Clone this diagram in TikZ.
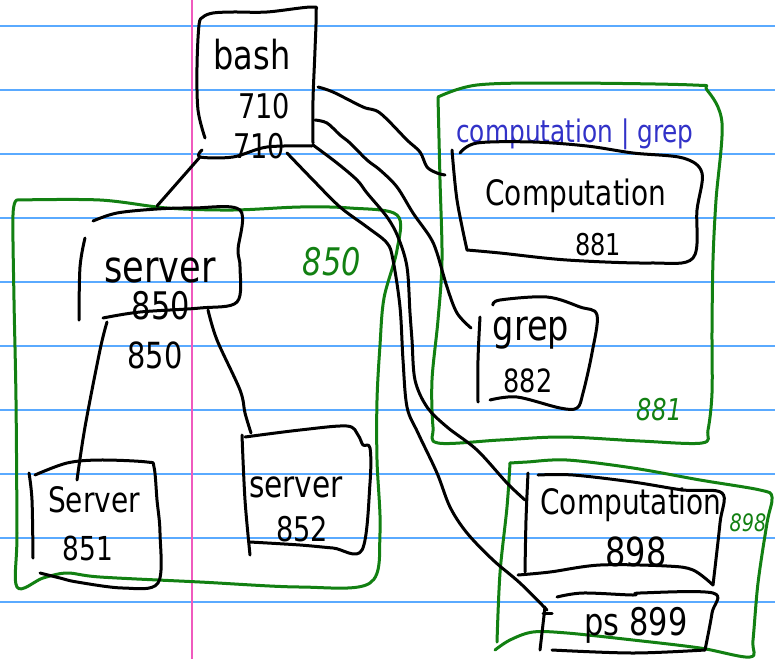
\documentclass[tikz,border=0pt]{standalone}
\usepackage{fontspec}
\newfontfamily\hand[FakeStretch=0.8]{DejaVu Sans}
\definecolor{penGreen}{RGB}{18,128,18}
\definecolor{penBlue}{RGB}{50,50,200}
\definecolor{ruleBlue}{RGB}{90,170,255}
\definecolor{marginPink}{RGB}{240,90,190}
\newcommand{\fs}[1]{\fontsize{#1}{#1}\selectfont}
\tikzset{
  ink/.style={line width=3pt, line cap=round, line join=round, draw=black},
  greenink/.style={ink, draw=penGreen},
  ruling/.style={line width=1.4pt, draw=ruleBlue},
  margin/.style={line width=1.4pt, draw=marginPink},
  hand/.style={font=\hand, inner sep=0pt, text=black},
  greenlabel/.style={hand, text=penGreen},
  bluelabel/.style={hand, text=penBlue},
  wob/.style={smooth, tension=0.55}
}
\begin{document}
\begin{tikzpicture}[x=1pt, y=-1pt]
\useasboundingbox (0,0) rectangle (775,659);
\fill[white] (0,0) rectangle (775,659);

% ruled paper
\foreach \k in {0,...,9}
  \draw[ruling] (0,26+64*\k) -- (775,26+64*\k);
\draw[margin] (192,0) -- (192,659);

% ---------- green group outlines ----------
\draw[greenink] plot[wob] coordinates {(17,200) (100,200) (167,208) (233,210) (300,207) (350,208) (397,215)
  (397,250) (384,298) (380,345) (377,400) (377,460) (380,533) (370,583)
  (300,587) (200,582) (100,577) (67,573) (43,578) (17,587)
  (17,533) (16,400) (14,300) (13,215) (17,200)};
\node[greenlabel, font=\hand\itshape\fs{38}] (g850) at (332,262) {850};

\draw[greenink] plot[wob] coordinates {(438,97) (477,85) (560,83) (693,85) (707,90) (722,123)
  (716,200) (713,260) (712,330) (712,393) (708,430) (702,443)
  (640,441) (563,437) (500,440) (438,443)
  (433,427) (432,380) (438,320) (442,260) (440,180) (438,97)};
\node[greenlabel, font=\hand\itshape\fs{30}] (g881) at (659,410) {881};

\draw[greenink] plot[wob] coordinates {(510,463) (527,462) (567,460) (633,468) (700,480) (760,490) (772,497)
  (767,523) (758,583) (753,640) (750,657)
  (700,648) (633,640) (567,633) (533,632) (510,640) (495,650)};
\draw[greenink] plot[wob] coordinates {(510,463) (507,507) (500,573) (497,642)};
\node[greenlabel, font=\hand\itshape\fs{24}] (g898) at (748,523) {898};

% ---------- bash 710 ----------
\draw[ink] plot[wob] coordinates {(205,138) (198,110) (197,67) (199,25) (203,17) (213,13) (233,12) (267,12) (312,7)
  (316,13) (315,50) (313,100) (313,143)};
\draw[ink] plot[wob] coordinates {(202,150) (200,157) (233,157) (267,147) (312,146)};
\node[hand, font=\hand\fs{40}] (bashname) at (252,55) {bash};
\node[hand, font=\hand\fs{34}] (bashpid) at (264,106) {710};
\node[hand, font=\hand\fs{34}] (bashpgid) at (259,146) {710};
\coordinate (bash-bl) at (200,157);
\coordinate (bash-r1) at (318,87);
\coordinate (bash-r2) at (315,120);
\coordinate (bash-r3) at (313,145);
\coordinate (bash-b)  at (287,153);

% ---------- server 850 ----------
\draw[ink] plot[wob] coordinates {(93,221) (117,213) (157,209) (193,208) (240,210)
  (238,250) (240,267) (237,302) (200,308) (140,312) (103,318)};
\draw[ink] plot[wob] coordinates {(85,238) (80,267) (79,320)};
\node[hand, font=\hand\fs{44}] (srvname) at (160,270) {server};
\node[hand, font=\hand\fs{38}] (srvpid) at (161,306) {850};
\node[hand, font=\hand\fs{36}] (srvpgid) at (155,355) {850};
\coordinate (srv-t)  at (157,206);
\coordinate (srv-bl) at (107,322);
\coordinate (srv-br) at (208,310);

% ---------- server 851 ----------
\draw[ink] plot[wob] coordinates {(35,475) (67,463) (100,460) (147,462) (154,467) (157,500) (160,533) (158,583)
  (123,588) (77,582) (60,578) (40,573)};
\draw[ink] plot[wob] coordinates {(29,473) (32,500) (33,558)};
\node[hand, font=\hand\fs{35}] (s851name) at (94,500) {Server};
\node[hand, font=\hand\fs{33}] (s851pid) at (88,548) {851};
\coordinate (s851-t) at (77,480);

% ---------- server 852 ----------
\draw[ink] plot[wob] coordinates {(245,437) (300,430) (347,426) (358,435) (363,445) (370,448)
  (370,483) (362,550) (333,548) (300,545) (250,542)};
\draw[ink] plot[wob] coordinates {(242,435) (245,500) (250,555)};
\node[hand, font=\hand\fs{37}] (s852name) at (296,487) {server};
\node[hand, font=\hand\fs{34}] (s852pid) at (302,529) {852};
\coordinate (s852-t) at (251,433);

% ---------- computation | grep ----------
\node[bluelabel, font=\hand\fs{31}] (pipe) at (575,134) {computation | grep};

\draw[ink] plot[wob] coordinates {(452,150) (457,200) (467,250)};
\draw[ink] plot[wob] coordinates {(460,153) (477,143) (533,142) (587,146) (633,153) (683,158) (702,173)
  (697,210) (693,258) (650,263) (567,260) (500,253) (467,250)};
\node[hand, font=\hand\fs{35}] (c881name) at (576,196) {Computation};
\node[hand, font=\hand\fs{30}] (c881pid) at (598,245) {881};
\coordinate (c881-w) at (445,175);

\draw[ink] plot[wob] coordinates {(480,317) (478,360) (478,402)};
\draw[ink] plot[wob] coordinates {(493,305) (500,300) (547,297) (580,307) (597,315) (592,353) (583,393) (577,408)
  (560,408) (517,397) (490,400)};
\node[hand, font=\hand\fs{42}] (grepname) at (531,333) {grep};
\node[hand, font=\hand\fs{32}] (greppid) at (528,381) {882};
\coordinate (grep-w) at (471,328);

% ---------- computation 898 / ps 899 ----------
\draw[ink] plot[wob] coordinates {(528,473) (526,520) (525,572)};
\draw[ink] plot[wob] coordinates {(538,475) (573,475) (633,482) (683,490) (722,493) (720,523) (713,585)};
\draw[ink] plot[wob] coordinates {(518,575) (550,572) (600,565) (667,566) (693,570) (713,585)};
\node[hand, font=\hand\fs{35}] (c898name) at (631,505) {Computation};
\node[hand, font=\hand\fs{40}] (c898pid) at (636,552) {898};
\coordinate (c898-w) at (525,500);

\draw[ink] plot[wob] coordinates {(557,597) (583,593) (633,595) (640,593) (713,593) (712,613) (705,650)};
\draw[ink] plot[wob] coordinates {(545,607) (540,650)};
\draw[ink] plot[wob] coordinates {(552,650) (633,653) (705,650)};
\node[hand, font=\hand\fs{38}] (psname) at (636,625) {ps 899};
\coordinate (ps-w) at (547,610);

% ---------- parent / child links ----------
\draw[ink] (bash-bl) -- (srv-t);
\draw[ink] plot[wob] coordinates {(srv-bl) (100,350) (85,427) (s851-t)};
\draw[ink] plot[wob] coordinates {(srv-br) (217,340) (240,390) (245,413) (s852-t)};

\draw[ink] plot[wob] coordinates {(bash-r1) (333,92) (363,107) (380,113) (407,140) (420,152) (427,167) (437,173) (c881-w)};
\draw[ink] plot[wob] coordinates {(bash-r2) (327,123) (340,135) (350,143) (367,160) (380,170) (397,187) (413,213)
  (430,237) (437,253) (447,287) (457,313) (grep-w)};
\draw[ink] plot[wob] coordinates {(bash-r3) (337,163) (357,180) (367,193) (387,217) (398,237) (407,267) (410,313)
  (412,340) (415,380) (427,407) (447,427) (477,450) (507,483) (c898-w)};
\draw[ink] plot[wob] coordinates {(bash-b) (313,180) (340,207) (367,227) (387,243) (393,260) (400,307) (403,360)
  (407,407) (418,433) (437,473) (450,507) (467,533) (493,560) (520,583) (ps-w)};
\draw[ink] ([xshift=-4pt,yshift=-3pt]ps-w) -- ([xshift=5pt,yshift=-3pt]ps-w);
\end{tikzpicture}
\end{document}
